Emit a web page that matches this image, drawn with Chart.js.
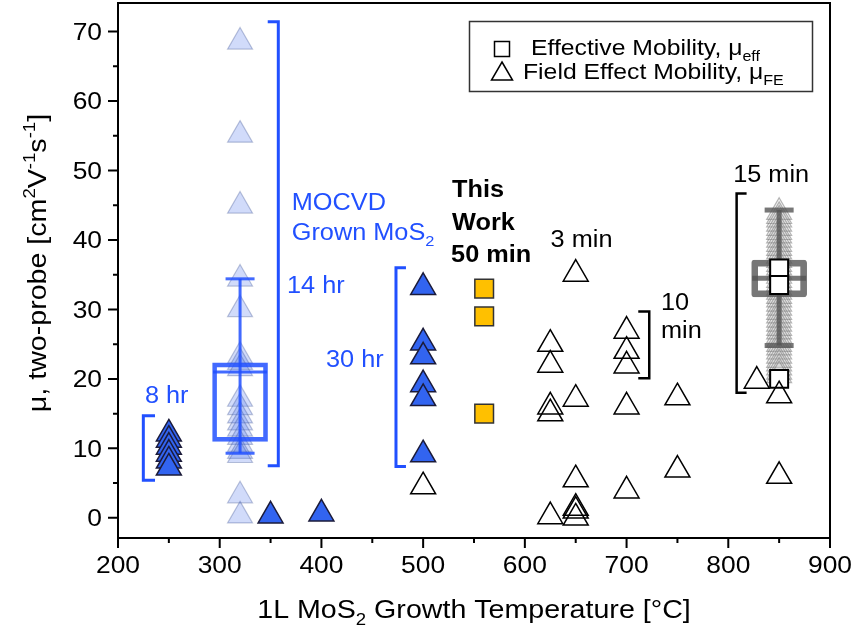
<!DOCTYPE html>
<html>
<head>
<meta charset="utf-8">
<script src="https://cdn.jsdelivr.net/npm/chart.js@4.4.0/dist/chart.umd.min.js"></script>
<style>
    html, body { margin: 0; padding: 0; background: #ffffff; }
</style>
</head>
<body>
<canvas id="mobilityChart" width="854" height="632"></canvas>
<script>

/***************************************************/
/********************* DATA ************************/
/***************************************************/
// MOCVD literature, faded (individual devices behind the box)
const fadedTemp = 320;
const fadedMu = [68.5, 55.1, 44.9, 34.4, 30.0, 23.3, 22.4, 21.5, 17.1, 15.9, 14.7, 13.7, 12.8, 11.6, 10.6, 9.6, 9.0, 3.2, 0.3];

// MOCVD literature, filled blue triangles
const mocvdTemp = [250, 250, 250, 250, 250, 250, 350, 400, 500, 500, 500, 500, 500, 500];
const mocvdMu   = [12.1, 11.2, 10.2, 9.2, 8.2, 7.2, 0.3, 0.6, 33.2, 25.2, 23.2, 19.2, 17.2, 9.1];

// field effect mobility, open triangles
const feTemp = [500, 625, 625, 625, 625, 625, 650, 650, 650, 650, 650, 650, 700, 700, 700, 700, 700, 750, 750, 828, 850, 850];
const feMu   = [4.5, 25.0, 22.0, 16.0, 15.0, 0.2, 35.1, 17.1, 5.5, 1.4, 1.0, 0.0, 26.9, 24.0, 21.9, 16.0, 3.9, 17.3, 6.9, 19.7, 17.6, 6.0];

// this work, 50 min (yellow squares)
const thisWorkTemp = [560, 560, 560];
const thisWorkMu   = [33.0, 29.0, 15.0];

// effective mobility, open squares
const effTemp = [850, 850, 850];
const effMu   = [35.9, 33.5, 20.0];

// 15 min growth, faded grey triangles
const greyTemp = 850;
const greyMu = [44.0, 43.4, 42.9, 42.3, 41.7, 41.1, 40.6, 40.0, 39.4, 38.8, 38.3, 37.7, 37.1, 36.5, 36.0, 35.4,
                34.8, 34.2, 33.7, 33.1, 32.5, 31.9, 31.4, 30.8, 30.2, 29.6, 29.1, 28.5, 27.9, 27.3, 26.8, 26.2,
                25.6, 25.0, 24.5, 23.9, 23.3, 22.7, 22.2, 21.6, 21.0, 20.5];

// box plots
const boxTemp   = [320, 850];
const boxLow    = [9.3, 24.8];
const boxQ1     = [11.0, 31.8];
const boxMedian = [21.0, 34.5];
const boxQ3     = [22.3, 37.1];
const boxHigh   = [34.4, 44.3];

// axis ticks
const xMajorTicks = [200, 300, 400, 500, 600, 700, 800, 900];
const xMinorTicks = [250, 350, 450, 550, 650, 750, 850];
const yMajorTicks = [0, 10, 20, 30, 40, 50, 60, 70];
const yMinorTicks = [5, 15, 25, 35, 45, 55, 65];


/***************************************************/
/******************** STYLES ***********************/
/***************************************************/
const FONT = '"Liberation Sans", Arial, sans-serif';
const STRETCH = 1.1;
const blue = 'rgb(33, 80, 255)';
const boxColors = ['rgba(33, 80, 255, 0.85)', 'rgba(85, 85, 85, 0.8)'];
const boxLineWidth = [4, 6];

function pts(xs, ys) {
    return ys.map((y, i) => ({ x: Array.isArray(xs) ? xs[i] : xs, y: y }));
}

// text with sub / superscripts, stretched along the reading direction
function drawRich(ctx, parts, x, y, size, opt) {
    opt = opt || {};
    const weight = opt.bold ? 'bold ' : '';
    ctx.save();
    ctx.translate(x, y);
    if (opt.rotate) ctx.rotate(opt.rotate);
    ctx.scale(STRETCH, 1);
    ctx.fillStyle = opt.color || '#000';
    ctx.textBaseline = 'alphabetic';
    ctx.textAlign = 'left';
    let total = 0;
    parts.forEach(p => {
        ctx.font = weight + (p.sub || p.sup ? size * 0.65 : size) + 'px ' + FONT;
        p.w = ctx.measureText(p.t).width;
        total += p.w;
    });
    let cx = 0;
    if (opt.align === 'center') cx = -total / 2;
    if (opt.align === 'right') cx = -total;
    parts.forEach(p => {
        ctx.font = weight + (p.sub || p.sup ? size * 0.65 : size) + 'px ' + FONT;
        let dy = 0;
        if (p.sub) dy = size * 0.28;
        if (p.sup) dy = -size * 0.42;
        ctx.fillText(p.t, cx, dy);
        cx += p.w;
    });
    ctx.restore();
}


/***************************************************/
/****************** ANNOTATIONS ********************/
/***************************************************/
const brackets = [
    { xv: 224.9, xt: 236.4, top: 14.7, bottom: 5.4, color: blue, width: 3 },
    { xv: 357.6, xt: 347.2, top: 71.4, bottom: 7.5, color: blue, width: 3 },
    { xv: 473.3, xt: 483.1, top: 36.0, bottom: 7.4, color: blue, width: 3 },
    { xv: 722.3, xt: 711.5, top: 29.7, bottom: 20.1, color: '#000', width: 2.5 },
    { xv: 808.2, xt: 818.0, top: 46.7, bottom: 18.0, color: '#000', width: 2.5 }
];

const labels = [
    { parts: [{ t: '8 hr' }], x: 226.5, y: 17.7, color: blue },
    { parts: [{ t: '14 hr' }], x: 366.2, y: 33.6, color: blue },
    { parts: [{ t: 'MOCVD' }], x: 370.8, y: 45.5, color: blue },
    { parts: [{ t: 'Grown MoS' }, { t: '2', sub: true }], x: 370.8, y: 41.2, color: blue },
    { parts: [{ t: '30 hr' }], x: 404.5, y: 22.9, color: blue },
    { parts: [{ t: 'This' }], x: 528.4, y: 47.4, bold: true },
    { parts: [{ t: 'Work' }], x: 528.4, y: 42.6, bold: true },
    { parts: [{ t: '50 min' }], x: 527.5, y: 38.0, bold: true },
    { parts: [{ t: '3 min' }], x: 625.3, y: 40.2 },
    { parts: [{ t: '10' }], x: 733.8, y: 31.1 },
    { parts: [{ t: 'min' }], x: 733.8, y: 27.1 },
    { parts: [{ t: '15 min' }], x: 804.8, y: 49.5 }
];

const annotationPlugin = {
    id: 'annotations',
    afterDatasetsDraw(chart) {
        const ctx = chart.ctx;
        const xs = chart.scales.x, ys = chart.scales.y;
        ctx.save();
        brackets.forEach(b => {
            ctx.beginPath();
            ctx.strokeStyle = b.color;
            ctx.lineWidth = b.width;
            ctx.moveTo(xs.getPixelForValue(b.xt), ys.getPixelForValue(b.top));
            ctx.lineTo(xs.getPixelForValue(b.xv), ys.getPixelForValue(b.top));
            ctx.lineTo(xs.getPixelForValue(b.xv), ys.getPixelForValue(b.bottom));
            ctx.lineTo(xs.getPixelForValue(b.xt), ys.getPixelForValue(b.bottom));
            ctx.stroke();
        });
        labels.forEach(l => {
            const size = 23;
            drawRich(ctx, l.parts, xs.getPixelForValue(l.x), ys.getPixelForValue(l.y) + size * 0.36, size,
                     { color: l.color, bold: l.bold });
        });
        ctx.restore();
    }
};


/***************************************************/
/*************** FRAME, TICKS, TITLES **************/
/***************************************************/
const framePlugin = {
    id: 'frame',
    afterDraw(chart) {
        const ctx = chart.ctx;
        const area = chart.chartArea;
        const xs = chart.scales.x, ys = chart.scales.y;
        ctx.save();
        ctx.strokeStyle = '#000';
        ctx.lineWidth = 2;
        ctx.strokeRect(area.left, area.top, area.right - area.left, area.bottom - area.top);

        // tick marks
        ctx.beginPath();
        xMajorTicks.forEach(v => { const p = xs.getPixelForValue(v); ctx.moveTo(p, area.bottom); ctx.lineTo(p, area.bottom + 10); });
        xMinorTicks.forEach(v => { const p = xs.getPixelForValue(v); ctx.moveTo(p, area.bottom); ctx.lineTo(p, area.bottom + 5); });
        yMajorTicks.forEach(v => { const p = ys.getPixelForValue(v); ctx.moveTo(area.left, p); ctx.lineTo(area.left - 10, p); });
        yMinorTicks.forEach(v => { const p = ys.getPixelForValue(v); ctx.moveTo(area.left, p); ctx.lineTo(area.left - 5, p); });
        ctx.stroke();

        // tick labels
        xMajorTicks.forEach(v => {
            drawRich(ctx, [{ t: String(v) }], xs.getPixelForValue(v), area.bottom + 35, 24, { align: 'center' });
        });
        yMajorTicks.forEach(v => {
            drawRich(ctx, [{ t: String(v) }], area.left - 16, ys.getPixelForValue(v) + 8.5, 24, { align: 'right' });
        });

        // axis titles
        drawRich(ctx, [{ t: '1L MoS' }, { t: '2', sub: true }, { t: ' Growth Temperature [°C]' }],
                 (area.left + area.right) / 2, 618, 26, { align: 'center' });
        drawRich(ctx, [{ t: 'μ, two-probe [cm' }, { t: '2', sup: true }, { t: 'V' }, { t: '-1', sup: true },
                       { t: 's' }, { t: '-1', sup: true }, { t: ']' }],
                 46, 263, 26, { align: 'center', rotate: -Math.PI / 2 });

        // legend box
        ctx.lineWidth = 1.5;
        ctx.strokeStyle = '#333';
        ctx.strokeRect(469.5, 21.5, 343, 70);
        ctx.strokeStyle = '#000';
        ctx.strokeRect(494.5, 41.5, 15, 15);
        ctx.beginPath();
        ctx.moveTo(502, 62);
        ctx.lineTo(512.5, 80);
        ctx.lineTo(491.5, 80);
        ctx.closePath();
        ctx.stroke();
        drawRich(ctx, [{ t: 'Effective Mobility, μ' }, { t: 'eff', sub: true }], 531, 55, 22.5);
        drawRich(ctx, [{ t: 'Field Effect Mobility, μ' }, { t: 'FE', sub: true }], 523, 79, 22.5);
        ctx.restore();
    }
};


/***************************************************/
/******************** DATASETS *********************/
/***************************************************/
const datasets = [
    {
        label: 'Field Effect Mobility',
        data: pts(feTemp, feMu),
        pointStyle: 'triangle', pointRadius: 14.4,
        pointBackgroundColor: 'rgba(255,255,255,0)', pointBorderColor: '#000', pointBorderWidth: 1.5,
        order: 0
    },
    {
        label: 'Effective Mobility',
        data: pts(effTemp, effMu),
        pointStyle: 'rect', pointRadius: 12.7,
        pointBackgroundColor: '#fff', pointBorderColor: '#000', pointBorderWidth: 2,
        order: 1
    },
    {
        label: 'This Work',
        data: pts(thisWorkTemp, thisWorkMu),
        pointStyle: 'rect', pointRadius: 13.2,
        pointBackgroundColor: '#ffc000', pointBorderColor: '#333', pointBorderWidth: 1.5,
        order: 2
    },
    {
        label: 'MOCVD',
        data: pts(mocvdTemp, mocvdMu),
        pointStyle: 'triangle', pointRadius: 14.4,
        pointBackgroundColor: '#3264f0', pointBorderColor: '#1b1b3a', pointBorderWidth: 1.5,
        order: 3
    },
    {
        type: 'bar',
        label: 'Boxes',
        data: boxTemp.map((t, i) => ({ x: t, y: [boxQ1[i], boxQ3[i]] })),
        backgroundColor: 'rgba(0,0,0,0)',
        borderColor: boxColors,
        borderWidth: boxLineWidth,
        borderRadius: [0, 3],
        borderSkipped: false,
        barThickness: 55,
        order: 6
    },
    {
        label: '15 min',
        data: pts(greyTemp, greyMu),
        pointStyle: 'triangle', pointRadius: 14.4,
        pointBackgroundColor: 'rgba(190,190,190,0.15)', pointBorderColor: 'rgba(110,110,110,0.5)', pointBorderWidth: 1.2,
        order: 9
    },
    {
        label: 'MOCVD faded',
        data: pts(fadedTemp, fadedMu),
        pointStyle: 'triangle', pointRadius: 14.4,
        pointBackgroundColor: 'rgba(70,110,235,0.25)', pointBorderColor: 'rgba(70,90,150,0.35)', pointBorderWidth: 1.2,
        order: 10
    }
];

// whiskers, caps and medians of each box
boxTemp.forEach((t, i) => {
    datasets.push({
        type: 'line',
        data: [{ x: t, y: boxLow[i] }, { x: t, y: boxHigh[i] }],
        borderColor: boxColors[i], borderWidth: boxLineWidth[i] - 1,
        pointRadius: 0,
        order: 5
    });
    datasets.push({
        data: [{ x: t, y: boxLow[i] }, { x: t, y: boxHigh[i] }],
        pointStyle: 'line', pointRadius: 14.5,
        pointBorderColor: boxColors[i], pointBorderWidth: boxLineWidth[i] - 1,
        order: 4
    });
    datasets.push({
        data: [{ x: t, y: boxMedian[i] }],
        pointStyle: 'line', pointRadius: 27,
        pointBorderColor: boxColors[i], pointBorderWidth: boxLineWidth[i] - 1,
        order: 4
    });
});


/***************************************************/
/********************* CHART ***********************/
/***************************************************/
const canvas = document.getElementById('mobilityChart').getContext('2d');
const mobilityChart = new Chart(canvas, {
    type: 'scatter',
    data: { datasets: datasets },
    options: {
        responsive: false,
        animation: false,
        events: [],
        layout: { autoPadding: false, padding: { top: 3, right: 24, left: 0, bottom: 0 } },
        plugins: {
            legend: { display: false },
            tooltip: { enabled: false }
        },
        scales: {
            x: {
                type: 'linear', min: 200, max: 900, offset: false,
                grid: { display: false }, border: { display: false },
                ticks: { display: false, stepSize: 50 },
                afterFit: scale => { scale.height = 94; }
            },
            y: {
                type: 'linear', min: -2.9, max: 74.1,
                grid: { display: false }, border: { display: false },
                ticks: { display: false, stepSize: 5 },
                afterFit: scale => { scale.width = 118; }
            }
        }
    },
    plugins: [annotationPlugin, framePlugin]
});
</script>
</body>
</html>
